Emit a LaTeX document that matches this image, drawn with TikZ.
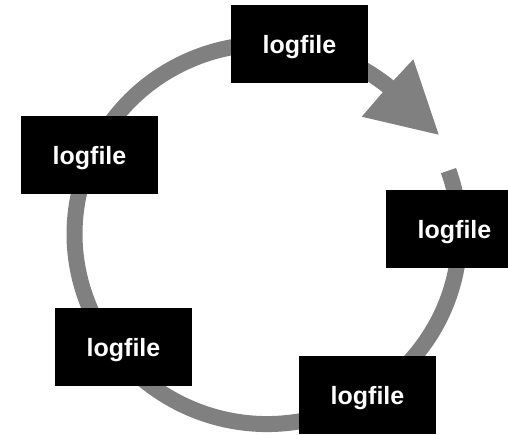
\documentclass[tikz,border=0pt]{standalone}
\usepackage{fontspec}
\setmainfont{Liberation Sans}
\definecolor{ringgray}{HTML}{808080}
\tikzset{
  logbox/.style={fill=black,text=white,minimum width=137pt,minimum height=78pt,inner sep=0pt,text height=20pt,text depth=0.6pt,font=\fontsize{25pt}{28pt}\selectfont\bfseries},
  ring/.style={draw=ringgray,line width=16pt,line cap=butt},
  ringhead/.style={fill=ringgray,draw=none}
}
\begin{document}
\begin{tikzpicture}[x=1pt,y=-1pt]
\useasboundingbox (0,0) rectangle (508,434);
\clip (0,0) rectangle (508,434);
\coordinate (ringstart) at (448.5,170.6);
\draw[ring] (ringstart) arc[start angle=-19.5,end angle=311,x radius=192.5,y radius=190];
\fill[ringhead] (438.7,134.7) -- (413.3,59.3) -- (394,80) -- (383.3,91.7) -- (361.7,116.7) -- cycle;
\node[logbox] (top) at (299.5,44) {logfile};
\node[logbox] (left) at (89.5,155) {logfile};
\node[logbox] (right) at (454.5,229) {logfile};
\node[logbox] (bl) at (123.5,347) {logfile};
\node[logbox] (br) at (367.5,395) {logfile};
\end{tikzpicture}
\end{document}
